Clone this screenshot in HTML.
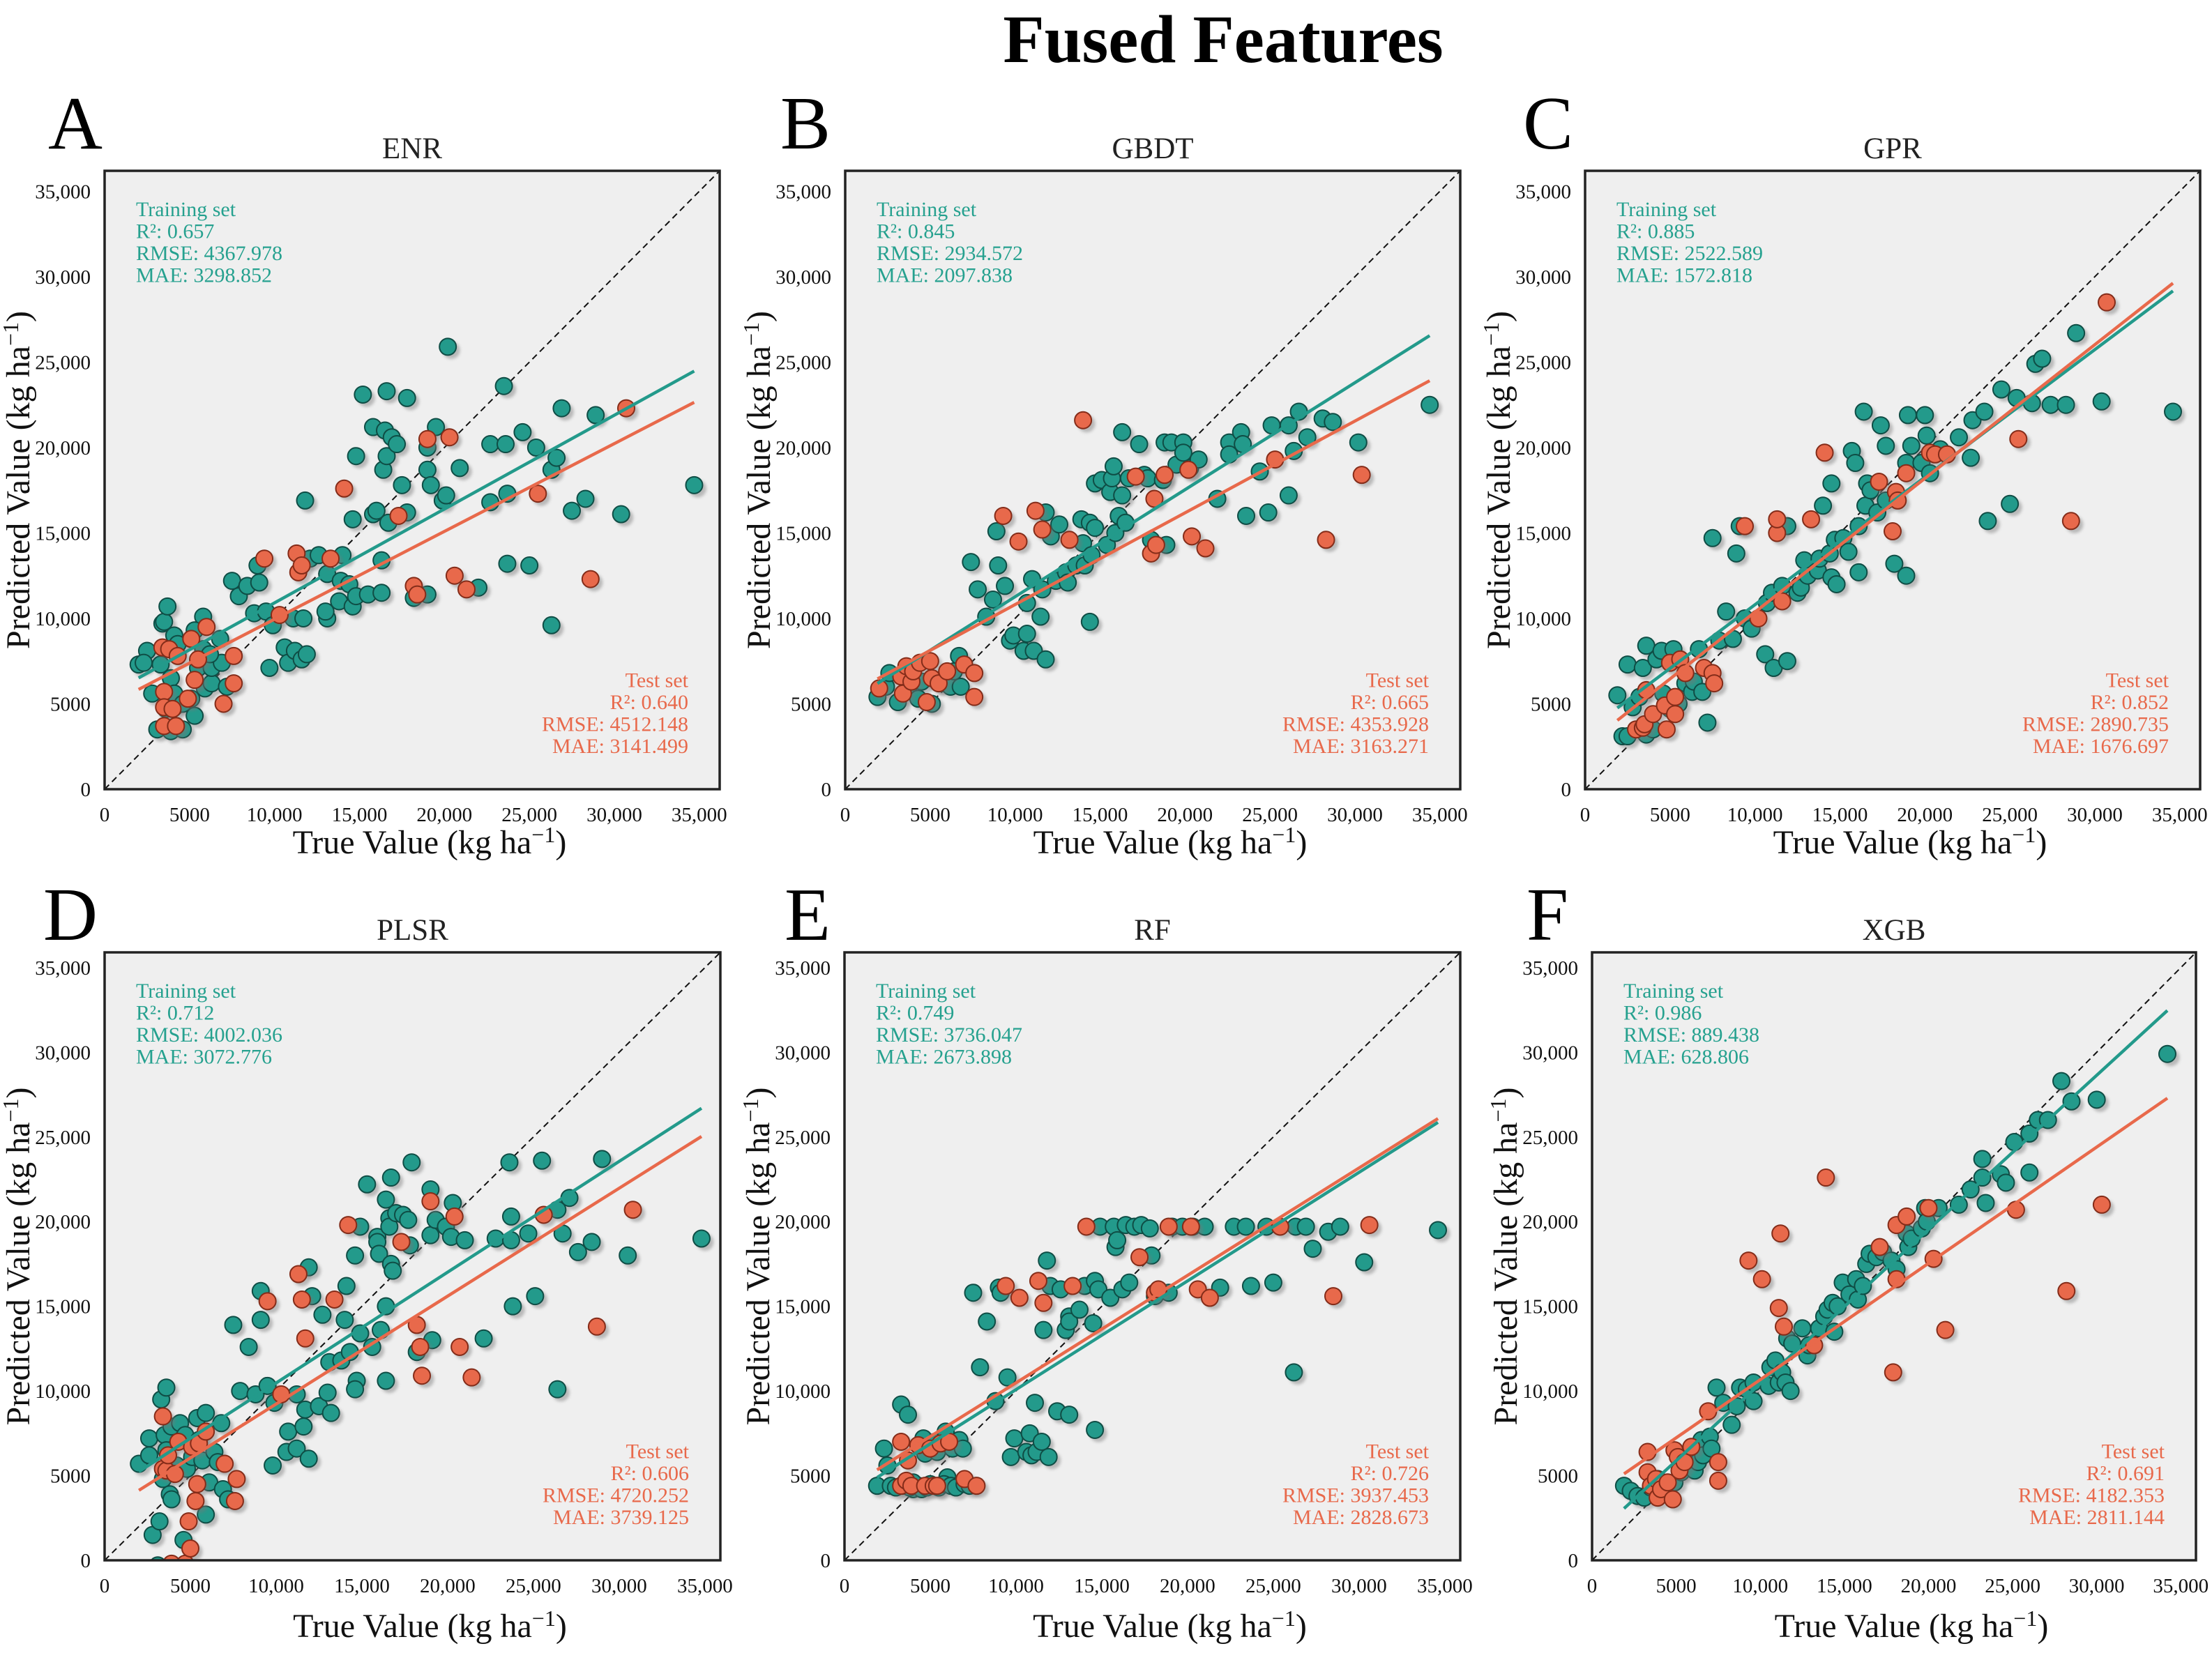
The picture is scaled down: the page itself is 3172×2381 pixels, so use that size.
<!DOCTYPE html>
<html><head><meta charset="utf-8"><title>Fused Features</title>
<style>
html,body{margin:0;padding:0;background:#fff;}
svg{display:block;font-family:"Liberation Serif","Times New Roman",serif;}
</style></head>
<body>
<svg id="fig" width="3172" height="2381" viewBox="0 0 3172 2381" xmlns="http://www.w3.org/2000/svg">
<defs>
<filter id="shadowBlur" x="-50%" y="-50%" width="200%" height="200%"><feGaussianBlur stdDeviation="2.2"/></filter>
</defs>
<text x="1754" y="89" font-size="97" font-weight="bold" text-anchor="middle" fill="#000">Fused Features</text>
</svg>
<script>
// ===== Data (values in thousands of kg ha^-1) =====
const tickValues = [0, 5, 10, 15, 20, 25, 30, 35];
const tickLabels = ["0", "5000", "10,000", "15,000", "20,000", "25,000", "30,000", "35,000"];

const enrTrainTrue = [2.0,2.5,2.3,3.3,3.4,3.5,3.7,4.1,4.3,3.9,4.1,3.1,3.9,4.6,5.3,5.1,5.5,5.9,5.8,5.3,6.3,6.3,6.8,6.9,7.2,2.8,3.6,4.6,5.8,6.2,7.5,7.9,8.4,9.1,9.0,8.8,9.5,9.9,9.7,10.6,10.8,11.2,11.6,11.9,11.1,11.7,11.8,12.1,12.6,13.1,13.1,13.0,13.8,13.9,14.0,14.4,14.6,14.8,14.6,14.8,15.2,15.5,15.8,16.0,15.8,16.3,16.3,16.4,16.6,16.6,16.5,16.9,17.2,16.7,17.5,17.8,17.8,18.2,19.0,19.0,19.0,19.2,19.5,19.9,20.1,20.2,20.9,22.0,22.7,22.7,23.5,23.6,23.7,23.7,24.6,25.0,25.4,26.3,26.6,26.3,26.9,27.5,28.3,28.9,30.4,34.7];
const enrTrainPred = [7.3,8.1,7.4,7.3,9.7,9.8,10.7,9.0,8.5,6.5,5.6,3.5,3.4,3.5,4.3,5.3,7.1,5.9,10.1,9.3,6.2,7.1,8.8,7.4,6.0,5.6,4.7,5.0,8.2,7.9,12.2,11.3,11.9,12.1,13.1,10.3,10.4,9.6,7.1,8.3,7.4,8.1,7.6,7.9,10.0,10.0,16.9,13.5,13.7,12.6,10.0,10.4,11.0,12.2,13.7,12.0,10.7,11.3,15.8,19.5,23.1,11.4,16.1,16.3,21.2,11.5,13.4,18.7,19.5,23.3,21.0,20.6,20.2,15.6,17.8,16.2,22.9,11.2,11.4,20.0,18.7,17.8,21.2,16.9,17.2,25.9,18.8,11.8,16.8,20.2,23.6,20.2,17.3,13.2,20.9,13.1,20.0,18.7,19.4,9.6,22.3,16.3,17.0,21.9,16.1,17.8];
const enrTestTrue = [3.4,3.8,3.5,3.5,3.5,4.2,4.0,4.3,5.1,4.9,5.3,5.5,6.0,7.6,7.6,7.0,9.4,10.3,11.3,11.4,11.6,13.3,14.1,17.3,18.2,18.4,19.0,20.3,20.6,21.3,25.5,28.6,30.7];
const enrTestPred = [8.3,8.2,5.7,4.8,3.7,3.7,4.7,7.8,8.8,5.3,6.4,7.6,9.5,7.8,6.2,5.0,13.5,10.2,13.8,12.7,13.1,13.5,17.6,16.0,11.9,11.4,20.5,20.6,12.5,11.7,17.3,12.3,22.3];

const gbdtTrainTrue = [1.9,2.4,2.6,3.1,3.7,4.3,4.5,5.1,5.7,6.2,6.7,6.8,6.4,7.4,7.8,8.3,8.7,8.9,9.0,9.4,9.7,9.9,10.5,10.7,10.7,11.0,11.1,11.5,11.6,11.8,11.8,12.1,12.4,12.6,13.0,13.1,13.6,13.9,14.0,14.1,14.4,14.5,14.4,14.7,14.7,15.1,15.4,15.6,15.7,15.8,15.9,16.1,16.3,16.5,16.3,16.7,17.3,17.6,17.8,18.0,18.7,18.8,18.9,19.2,19.5,19.9,19.9,20.3,20.8,21.9,22.6,22.6,23.3,23.4,23.6,24.4,24.9,25.1,26.1,26.1,26.4,26.7,27.2,28.1,28.7,30.2,34.4];
const gbdtTrainPred = [5.4,6.0,6.8,5.1,5.9,5.3,6.3,5.0,6.2,6.0,7.8,6.0,6.9,13.3,11.7,10.1,11.1,15.1,13.1,11.9,8.7,9.0,8.1,9.1,10.9,12.3,8.1,10.1,11.7,7.6,16.2,14.8,12.2,15.5,12.7,12.1,13.1,15.8,14.4,13.1,15.6,13.7,9.8,15.3,17.9,18.1,14.3,17.4,18.2,18.9,15.0,16.0,17.2,15.6,20.9,18.2,20.2,18.4,18.2,14.6,18.1,20.3,14.3,20.3,19.0,20.3,19.7,18.8,19.3,17.0,20.3,19.6,20.9,20.2,16.0,18.6,16.2,21.3,21.3,17.2,19.8,22.1,20.6,21.7,21.5,20.3,22.5];
const gbdtTestTrue = [2.0,3.3,3.6,3.4,3.9,4.0,4.4,4.8,5.0,5.1,5.5,6.0,7.0,7.6,7.6,9.3,10.2,11.2,11.6,13.2,14.0,17.1,18.2,18.0,18.3,18.8,20.2,20.4,21.2,25.3,28.3,30.4];
const gbdtTestPred = [5.9,6.6,7.2,5.6,6.3,6.9,7.4,5.1,7.5,6.5,6.2,6.9,7.3,6.8,5.4,16.0,14.5,16.3,15.2,14.6,21.6,18.3,17.0,13.8,14.3,18.4,18.7,14.8,14.1,19.3,14.6,18.4];

const gprTrainTrue = [1.9,2.2,2.5,2.5,2.8,3.2,3.4,3.6,3.6,4.0,4.2,4.5,4.6,5.0,5.2,5.5,5.9,6.3,6.4,6.7,6.9,7.2,7.5,7.9,8.3,8.7,8.9,9.1,9.4,9.8,10.6,10.7,11.0,11.1,11.6,11.9,11.9,12.5,12.7,12.9,13.1,13.7,13.8,14.0,14.4,14.5,14.5,14.7,14.8,15.2,15.5,15.7,15.9,16.1,16.1,16.4,16.5,16.6,16.8,17.2,17.4,17.7,17.7,18.2,18.9,18.9,19.0,19.2,19.8,20.0,20.1,20.3,20.9,22.0,22.7,22.8,23.5,23.7,24.5,25.0,25.4,26.3,26.5,26.9,27.4,28.3,28.9,30.4,34.6];
const gprTrainPred = [5.5,3.1,3.1,7.3,4.8,5.4,7.1,8.4,3.2,3.5,7.6,8.1,5.6,4.7,8.2,5.0,6.2,5.7,6.3,8.2,5.7,3.9,14.7,8.7,10.4,8.8,13.8,15.4,10.0,9.4,7.9,10.9,11.5,7.1,11.9,15.4,7.5,11.5,11.8,13.4,12.5,12.8,13.5,16.6,13.8,17.9,12.4,14.6,12.0,14.7,13.9,19.8,19.1,12.7,15.4,22.1,16.6,17.9,17.5,16.2,21.3,20.1,16.9,13.2,12.5,19.1,21.9,20.1,19.1,21.9,20.7,18.5,19.9,20.6,19.4,21.6,22.1,15.7,23.4,16.7,22.9,22.6,24.9,25.2,22.5,22.5,26.7,22.7,22.1];
const gprTestTrue = [3.0,3.4,3.5,3.6,4.0,4.7,4.8,5.0,5.3,5.3,5.6,5.9,7.0,7.5,7.6,9.4,10.2,11.3,11.3,11.6,13.3,14.1,17.3,18.1,18.3,18.4,18.9,20.3,20.6,21.3,25.5,28.6,30.7];
const gprTestPred = [3.5,3.6,3.8,5.8,4.4,4.9,3.5,7.4,4.4,5.4,7.6,6.8,7.1,6.8,6.2,15.4,10.0,15.0,15.8,11.0,15.8,19.7,18.0,15.1,17.4,16.9,18.5,19.7,19.6,19.6,20.5,15.7,28.5];

const plsrTrainTrue = [2.0,2.6,2.6,2.8,3.2,3.1,3.3,3.4,3.5,3.6,3.6,3.8,3.9,3.9,4.2,4.4,4.6,4.7,4.8,5.1,5.4,5.5,5.7,5.9,5.9,6.1,6.4,6.6,6.8,6.9,7.2,7.5,7.9,8.4,8.8,9.1,9.1,9.5,9.8,9.9,10.7,10.6,11.2,11.2,11.6,11.7,11.9,11.9,12.1,12.5,12.7,13.0,13.1,13.2,13.8,14.0,14.1,14.3,14.7,14.6,14.6,14.9,14.9,15.3,15.6,15.9,15.9,16.0,16.1,16.4,16.4,16.4,16.6,16.6,16.7,16.7,16.8,17.0,17.4,17.7,17.8,17.9,18.2,19.0,19.0,19.1,19.3,19.9,20.2,20.3,21.0,22.1,22.8,23.6,23.7,23.7,23.8,24.7,25.1,25.5,26.4,26.4,26.7,27.1,27.6,28.4,29.0,30.5,34.8];
const plsrTrainPred = [5.7,7.2,6.2,1.5,2.3,-0.3,9.5,4.8,7.4,10.2,6.5,3.9,3.6,7.9,5.6,8.1,1.2,7.4,5.4,6.1,8.4,7.1,5.9,8.7,2.7,4.6,6.4,5.8,8.1,4.2,3.6,13.9,10.0,12.6,9.8,15.9,14.2,10.3,5.6,9.3,7.6,6.4,9.8,6.6,7.9,8.9,6.0,17.3,15.6,9.1,14.5,9.9,11.7,8.7,11.8,14.2,16.2,12.3,10.6,10.1,18.0,13.4,19.7,22.2,12.6,19.1,18.8,18.1,13.6,15.0,10.6,21.3,20.2,19.7,22.6,17.5,17.1,20.5,20.4,20.1,18.6,23.5,12.3,19.2,21.9,13.0,20.1,19.7,19.1,21.1,18.9,13.1,19.0,23.5,18.9,20.3,15.0,19.3,15.6,23.6,20.7,10.1,19.3,21.4,18.2,18.8,23.7,18.0,19.0];
const plsrTestTrue = [3.4,3.4,3.6,3.7,3.9,4.1,4.3,4.7,4.9,5.0,5.1,5.3,5.4,5.5,5.9,7.0,7.6,7.7,9.5,10.3,11.3,11.5,11.7,13.4,14.2,17.3,18.2,18.4,18.5,19.0,20.4,20.7,21.4,25.6,28.7,30.8];
const plsrTestPred = [8.5,5.4,5.3,6.2,-0.2,5.1,7.0,-0.2,2.3,0.7,6.7,3.5,4.5,6.9,7.6,5.7,3.5,4.8,15.3,9.8,16.9,15.4,13.1,15.4,19.8,18.8,13.9,12.6,10.9,21.2,20.3,12.6,10.8,20.4,13.8,20.7];

const rfTrainTrue = [1.9,2.3,2.5,2.7,3.3,3.6,3.7,4.0,4.3,4.6,4.7,5.0,5.3,5.4,5.9,6.0,6.3,6.6,6.7,6.9,7.5,7.9,8.3,8.8,9.0,9.1,9.5,9.7,9.9,10.6,10.8,10.9,11.1,11.2,11.5,11.6,11.8,11.9,12.0,12.4,12.6,12.9,13.1,13.1,13.1,13.7,14.0,14.5,14.6,14.6,14.8,14.9,15.5,15.7,15.8,15.9,16.2,16.4,16.6,16.9,17.3,17.8,17.9,18.1,18.9,19.1,19.7,20.3,21.0,21.9,22.7,23.4,23.7,24.6,25.0,26.2,26.3,26.9,27.3,28.2,28.9,30.3,34.6,3.0,3.4,3.8,4.2,4.5,4.8,5.1,5.5,5.8,6.2,6.5,7.0,7.3,4.0,5.0];
const rfTrainPred = [4.4,6.6,5.6,4.4,9.2,4.4,8.6,4.2,4.4,7.2,6.3,4.4,7.0,6.4,7.6,4.9,6.6,4.4,7.1,6.6,15.8,11.4,14.1,9.4,16.1,15.8,10.8,6.1,7.2,6.4,7.5,6.2,9.3,6.4,7.0,13.6,17.7,6.1,16.2,8.8,16.0,13.6,8.6,14.4,14.1,14.8,16.2,14.0,7.7,16.5,16.0,19.7,15.5,19.7,18.5,18.9,16.0,19.8,16.4,19.7,19.8,19.6,18.0,15.6,15.8,19.7,19.7,19.7,19.7,16.1,19.7,19.7,16.2,19.7,16.4,11.1,19.7,19.7,18.4,19.4,19.7,17.6,19.5,4.3,4.4,4.3,4.4,4.2,4.3,4.4,4.3,4.5,4.4,4.3,4.5,4.4,4.6,4.5];
const rfTestTrue = [3.3,3.3,3.6,3.7,3.9,4.3,4.7,5.0,5.2,5.4,5.6,6.1,7.0,7.7,9.4,10.2,11.3,11.6,13.3,14.1,17.2,18.1,18.3,18.9,20.2,20.6,21.3,25.4,28.5,30.6];
const rfTestPred = [7.0,4.4,4.7,5.9,4.4,6.8,4.4,6.6,4.4,4.4,6.9,7.0,4.8,4.4,16.2,15.5,16.5,15.2,16.2,19.7,17.9,15.8,16.0,19.7,19.7,16.0,15.5,19.7,15.6,19.8];

const xgbTrainTrue = [1.9,2.3,2.7,3.1,3.5,3.9,4.3,4.9,5.3,5.8,6.1,6.3,6.5,6.6,7.0,7.1,7.4,7.8,8.3,8.6,8.8,9.2,9.6,9.6,10.5,10.6,10.9,11.1,11.3,11.5,11.6,11.8,11.9,12.5,12.8,12.9,13.5,13.8,14.0,14.3,14.4,14.6,14.9,15.3,15.7,15.8,16.1,16.3,16.5,16.9,17.3,17.8,18.1,18.7,18.8,19.0,19.6,19.8,19.9,20.6,21.8,22.5,23.2,23.2,23.4,24.3,24.6,25.1,26.0,26.0,26.5,27.1,27.9,28.5,30.0,34.2];
const xgbTrainPred = [4.4,4.1,3.8,3.7,4.3,4.8,4.5,4.6,5.2,5.6,5.3,5.8,7.1,6.2,7.3,6.6,10.2,9.3,8.0,9.1,10.2,10.1,10.5,9.4,10.3,11.4,11.8,10.5,11.1,10.5,13.1,10.0,12.8,13.7,12.1,12.7,13.7,14.4,14.8,15.2,13.5,15.0,16.4,15.7,16.6,15.4,16.2,17.5,18.1,17.9,18.2,17.7,17.2,19.3,18.5,19.0,19.6,20.8,20.0,20.8,21.0,21.9,22.6,23.7,21.1,22.8,22.3,24.7,25.2,22.9,26.0,26.0,28.3,27.1,27.2,29.9];
const xgbTestTrue = [3.3,3.3,3.5,3.8,3.9,4.1,4.5,4.8,4.9,5.1,5.2,5.5,5.9,6.9,7.5,7.5,9.3,10.1,11.1,11.2,11.4,13.2,13.9,17.1,17.9,18.1,18.1,18.7,20.0,20.3,21.0,25.2,28.2,30.3];
const xgbTestPred = [6.4,5.2,4.4,4.8,3.7,4.2,4.6,3.6,6.5,6.1,5.3,5.8,6.7,8.8,5.8,4.7,17.7,16.6,14.9,19.3,13.8,12.7,22.6,18.5,11.1,19.8,16.6,20.3,20.8,17.8,13.6,20.7,15.9,21.0];

// ===== Layout (positions only) =====
const TEAL = "#239a8b", TEAL_EDGE = "#0f4d45", TEAL_TXT = "#26a18f";
const ORANGE = "#e8694b", ORANGE_EDGE = "#842c19", ORANGE_TXT = "#e8694b";
const panels = [
  {id:"a", letter:"A", title:"ENR",  L:150,  T:245,  W:882, H:887, M:36.2, lx:69,   row:0, tx:enrTrainTrue,  ty:enrTrainPred,  sx:enrTestTrue,  sy:enrTestPred,
   trainStats:["Training set","R²: 0.657","RMSE: 4367.978","MAE: 3298.852"], testStats:["Test set","R²: 0.640","RMSE: 4512.148","MAE: 3141.499"]},
  {id:"b", letter:"B", title:"GBDT", L:1212, T:245,  W:882, H:887, M:36.2, lx:1119, row:0, tx:gbdtTrainTrue, ty:gbdtTrainPred, sx:gbdtTestTrue, sy:gbdtTestPred,
   trainStats:["Training set","R²: 0.845","RMSE: 2934.572","MAE: 2097.838"], testStats:["Test set","R²: 0.665","RMSE: 4353.928","MAE: 3163.271"]},
  {id:"c", letter:"C", title:"GPR",  L:2273, T:245,  W:882, H:887, M:36.2, lx:2184, row:0, tx:gprTrainTrue,  ty:gprTrainPred,  sx:gprTestTrue,  sy:gprTestPred,
   trainStats:["Training set","R²: 0.885","RMSE: 2522.589","MAE: 1572.818"], testStats:["Test set","R²: 0.852","RMSE: 2890.735","MAE: 1676.697"]},
  {id:"d", letter:"D", title:"PLSR", L:150,  T:1366, W:883, H:872, M:35.9, lx:62,   row:1, tx:plsrTrainTrue, ty:plsrTrainPred, sx:plsrTestTrue, sy:plsrTestPred,
   trainStats:["Training set","R²: 0.712","RMSE: 4002.036","MAE: 3072.776"], testStats:["Test set","R²: 0.606","RMSE: 4720.252","MAE: 3739.125"]},
  {id:"e", letter:"E", title:"RF",   L:1211, T:1366, W:883, H:872, M:35.9, lx:1125, row:1, tx:rfTrainTrue,   ty:rfTrainPred,   sx:rfTestTrue,   sy:rfTestPred,
   trainStats:["Training set","R²: 0.749","RMSE: 3736.047","MAE: 2673.898"], testStats:["Test set","R²: 0.726","RMSE: 3937.453","MAE: 2828.673"]},
  {id:"f", letter:"F", title:"XGB",  L:2283, T:1366, W:866, H:872, M:35.9, lx:2189, row:1, tx:xgbTrainTrue,  ty:xgbTrainPred,  sx:xgbTestTrue,  sy:xgbTestPred,
   trainStats:["Training set","R²: 0.986","RMSE: 889.438","MAE: 628.806"], testStats:["Test set","R²: 0.691","RMSE: 4182.353","MAE: 2811.144"]}
];

const NS = "http://www.w3.org/2000/svg";
const svg = document.getElementById("fig");
function mk(tag, attrs, parent) {
  const e = document.createElementNS(NS, tag);
  for (const k in attrs) e.setAttribute(k, attrs[k]);
  (parent || svg).appendChild(e);
  return e;
}
function fit(xs, ys) {
  const n = Math.min(xs.length, ys.length);
  let mx = 0, my = 0;
  for (let i = 0; i < n; i++) { mx += xs[i]; my += ys[i]; }
  mx /= n; my /= n;
  let sxy = 0, sxx = 0;
  for (let i = 0; i < n; i++) { sxy += (xs[i]-mx)*(ys[i]-my); sxx += (xs[i]-mx)*(xs[i]-mx); }
  const b = sxy / sxx;
  return {slope: b, intercept: my - b*mx};
}

panels.forEach(p => {
  const B = p.T + p.H, R = p.L + p.W;
  const xs = v => p.L + v / p.M * p.W;
  const ys = v => B - v / p.M * p.H;
  const g = mk("g", {});
  
  

  const letter = mk("text", {x:p.lx, y:(p.row===0?213:1348), "font-size":108, fill:"#000"}, g);
  
  
  letter.textContent = p.letter;

  const ttl = mk("text", {x:p.L + p.W/2, y:(p.row===0?227:1348), "font-size":43, "text-anchor":"middle", fill:"#222"}, g);
  
  
  ttl.textContent = p.title;

  const bg = mk("rect", {x:p.L, y:p.T, width:p.W, height:p.H, fill:"#efefef"}, g);
  
  

  const clipId = "clip-" + p.id;
  const cp = mk("clipPath", {id:clipId}, g);
  mk("rect", {x:p.L, y:p.T, width:p.W, height:p.H}, cp);
  const inner = mk("g", {"clip-path":"url(#"+clipId+")"}, g);

  const diag = mk("line", {x1:xs(0), y1:ys(0), x2:xs(p.M), y2:ys(p.M), stroke:"#111", "stroke-width":2, "stroke-dasharray":"9,6"}, inner);
  
  

  function scatter(xa, ya, fill, edge, nm) {
    const n = Math.min(xa.length, ya.length);
    const sg = mk("g", {}, inner);
    
    
    const sh = mk("g", {filter:"url(#shadowBlur)", opacity:0.45}, sg);
    for (let i = 0; i < n; i++) {
      const s = mk("circle", {cx:xs(xa[i])+5, cy:ys(ya[i])+5, r:12.5, fill:"#777"}, sh);
      
      
    }
    for (let i = 0; i < n; i++) {
      const c = mk("circle", {cx:xs(xa[i]), cy:ys(ya[i]), r:12, fill:fill, stroke:edge, "stroke-width":2}, sg);
      
      
    }
  }
  scatter(p.tx, p.ty, TEAL, TEAL_EDGE, "training");
  scatter(p.sx, p.sy, ORANGE, ORANGE_EDGE, "test");

  const allX = p.tx.concat(p.sx);
  const x0 = Math.min.apply(null, allX), x1 = Math.max.apply(null, allX);
  const ft = fit(p.tx, p.ty), fs = fit(p.sx, p.sy);
  const lt = mk("line", {x1:xs(x0), y1:ys(ft.intercept+ft.slope*x0), x2:xs(x1), y2:ys(ft.intercept+ft.slope*x1), stroke:TEAL, "stroke-width":4.5}, inner);
  
  
  const ls = mk("line", {x1:xs(x0), y1:ys(fs.intercept+fs.slope*x0), x2:xs(x1), y2:ys(fs.intercept+fs.slope*x1), stroke:ORANGE, "stroke-width":4.5}, inner);
  
  

  const frame = mk("rect", {x:p.L, y:p.T, width:p.W, height:p.H, fill:"none", stroke:"#222", "stroke-width":3.5}, g);
  
  

  tickValues.forEach((v, i) => {
    const xt = mk("text", {x:xs(v), y:B+46, "font-size":29, "text-anchor":"middle", fill:"#111"}, g);
    
    
    xt.textContent = tickLabels[i];
    const yt = mk("text", {x:p.L-20, y:ys(v)+10, "font-size":29, "text-anchor":"end", fill:"#111"}, g);
    
    
    yt.textContent = tickLabels[i];
  });

  const xl = mk("text", {x:p.L + p.W/2 + 25, y:B + (p.row===0?92:110), "font-size":48, "text-anchor":"middle", fill:"#111"}, g);
  
  
  xl.innerHTML = 'True Value (kg ha<tspan dy="-16" font-size="32">−1</tspan><tspan dy="16">)</tspan>';

  const cy = p.T + p.H/2;
  const yl = mk("text", {x:0, y:0, "font-size":48, "text-anchor":"middle", fill:"#111", transform:"translate("+(p.L-108)+","+cy+") rotate(-90)"}, g);
  
  
  yl.innerHTML = 'Predicted Value (kg ha<tspan dy="-16" font-size="32">−1</tspan><tspan dy="16">)</tspan>';

  p.trainStats.forEach((s, i) => {
    const t = mk("text", {x:p.L+45, y:p.T+65+i*31.5, "font-size":30, fill:TEAL_TXT}, g);
    
    
    t.textContent = s;
  });
  p.testStats.forEach((s, i) => {
    const t = mk("text", {x:R-45, y:B-52-(3-i)*31.5, "font-size":30, fill:ORANGE_TXT, "text-anchor":"end"}, g);
    
    
    t.textContent = s;
  });
});
</script>
</body></html>
